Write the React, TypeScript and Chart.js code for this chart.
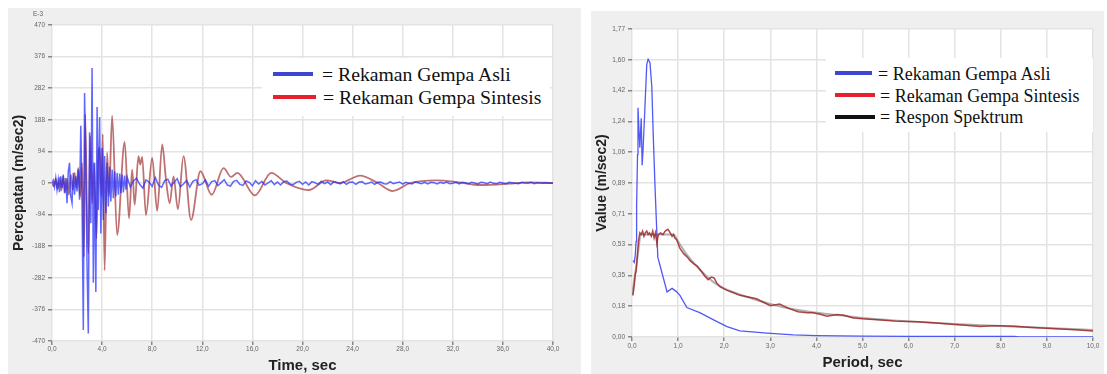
import React, { useEffect, useRef } from "react";
import { Chart, registerables } from "chart.js";

Chart.register(...registerables);

// ---------- Left chart: acceleration time history ----------
const timeTicks = [0, 4, 8, 12, 16, 20, 24, 28, 32, 36, 40];
const accelTicks = [-470, -376, -282, -188, -94, 0, 94, 188, 282, 376, 470];

// original record, sampled every 0.1 s from 0 to 6 s (E-3 m/sec2)
const blueEarlyStart = 0;
const blueEarlyStep = 0.1;
const blueEarly = [
  0, 8, -12, 15, -20, 10, -27, 20, -15, 25,
  -30, 15, -60, 35, 60, -40, -60, 30, -35, 20,
  -25, 40, -50, 170, -60, -437, 268, 60, -250, -448,
  150, -120, 342, -297, 60, -324, 226, -80, 196, -150,
  104, -110, 80, -90, 60, -70, 48, -55, 40, -45,
  35, -40, 30, -35, 28, -30, 25, -28, 22, -20,
  18,
];
// original record, sampled every 0.25 s from 6.25 to 40 s
const blueLateStart = 6.25;
const blueLateStep = 0.25;
const blueLate = [
  -12, 6, 14, -4, -15, 9, 3, -10, 16, -6, -13, 7,
  11, -9, 2, 13, -11, -3, 8, -12, 5, 10, -7, -2,
  9, -10, 4, 7, -8, 1, 10, -6, -9, 5, 8, -4,
  -7, 6, 2, -8, 7, -3, 5, -6, 0, 7, -5, 3,
  -6, 4, 6, -3, -5, 2, 5, -4, 3, -6, 4, 1,
  -4, 5, -2, 3, -5, 4, 1, -3, 4, -4, 2, 3,
  -4, 2, 4, -3, -1, 3, -4, 2, 3, -2, -3, 4,
  -2, 1, 3, -3, 2, -1, -3, 3, 1, -2, 2, -3,
  2, 1, -3, 2, -1, 3, -2, -1, 2, -3, 2, 1,
  -2, 2, 0, -3, 2, 1, -2, 3, -1, -2, 2, 0,
  -2, 2, 1, -1, -2, 2, 0, -1, 2, -2, 1, 0,
  -1, 1, -1, 0,
];

// synthetic record: times (s) and accelerations (E-3 m/sec2)
const redTimes = [
  0, 0.15, 0.3, 0.45, 0.6, 0.75, 0.9, 1.05, 1.2, 1.35,
  1.5, 1.65, 1.8, 1.95, 2.1, 2.25, 2.4, 2.55, 2.65, 2.8,
  2.9, 3.05, 3.2, 3.35, 3.55, 3.7, 3.8, 3.95, 4.05, 4.2,
  4.4, 4.55, 4.8, 5.2, 5.8, 6.15, 6.4, 6.6, 6.9, 7.05,
  7.2, 7.5, 8.0, 8.4, 8.8, 9.1, 9.4, 9.7, 10.05, 10.5,
  11.1, 11.85, 12.75, 13.7, 14.3, 14.8, 16.2, 17.5, 18.7, 20.5,
  21.9, 23.0, 24.6, 26.0, 27.2, 28.6, 30.7, 32.5, 34.2, 36.5,
  38.0, 40.0,
];
const redAccel = [
  0, -10, 12, -18, 15, -22, 20, -28, 12, -35,
  25, -20, 30, -15, 45, -40, 60, -220, 205, -100,
  -210, 140, -60, 60, -165, 80, 105, -40, 145, -260,
  90, -40, 200, -155, 122, -105, 40, -65, 80, 55,
  78, -95, 75, -83, 115, 10, -60, 20, -78, 80,
  -110, 35, -35, 44, 18, 30, -37, 30, 0, -21,
  8, 0, 22, 0, -24, 0, 8, 2, -6, -2,
  2, 0,
];

// ---------- Right chart: response spectra ----------
const periodTicks = [0, 1, 2, 3, 4, 5, 6, 7, 8, 9, 10];
const valueTicks = [0, 0.1774, 0.3548, 0.5322, 0.7096, 0.887, 1.0644, 1.2418, 1.4192, 1.5966, 1.774];
const valueTickLabels = ["0,00", "0,18", "0,35", "0,53", "0,71", "0,89", "1,06", "1,24", "1,42", "1,60", "1,77"];

const origSpecPeriods = [
  0.02, 0.05, 0.07, 0.09, 0.1, 0.12, 0.13, 0.15, 0.17, 0.2,
  0.22, 0.24, 0.28, 0.32, 0.35, 0.39, 0.43, 0.46, 0.5, 0.56,
  0.65, 0.76, 0.87, 0.97, 1.04, 1.19, 1.47, 1.76, 2.06, 2.34,
  2.93, 3.5, 4.0, 5.0, 6.0, 7.0, 8.3, 8.4, 10.0,
];
const origSpecValues = [
  0.44, 0.43, 0.47, 0.55, 0.75, 1.05, 1.32, 1.2, 1.09, 1.26,
  0.99, 1.08, 1.32, 1.57, 1.6, 1.58, 1.44, 1.17, 0.86, 0.46,
  0.37, 0.26, 0.28, 0.26, 0.24, 0.17, 0.14, 0.1, 0.06, 0.035,
  0.022, 0.012, 0.008, 0.005, 0.004, 0.004, 0.003, 0.0, 0.0,
];

const synthSpecPeriods = [
  0.02, 0.05, 0.07, 0.09, 0.11, 0.14, 0.17, 0.2, 0.23, 0.26,
  0.29, 0.32, 0.35, 0.38, 0.42, 0.45, 0.48, 0.51, 0.54, 0.57,
  0.62, 0.67, 0.72, 0.78, 0.83, 0.87, 0.9, 0.93, 0.97, 1.04,
  1.12, 1.2, 1.26, 1.35, 1.41, 1.5, 1.58, 1.65, 1.72, 1.78,
  1.84, 1.91, 2.05, 2.2, 2.34, 2.5, 2.7, 2.85, 3.0, 3.2,
  3.4, 3.6, 3.8, 3.93, 4.1, 4.23, 4.45, 4.6, 4.8, 5.0,
  5.4, 5.8, 6.2, 6.6, 7.0, 7.3, 7.55, 7.8, 8.0, 8.3,
  8.6, 9.0, 9.4, 9.7, 10.0,
];
const synthSpecValues = [
  0.24, 0.3, 0.36, 0.38, 0.45, 0.55, 0.6, 0.59, 0.61, 0.58,
  0.6, 0.61, 0.59, 0.6, 0.58, 0.61, 0.57, 0.6, 0.54, 0.59,
  0.6, 0.59, 0.61, 0.62, 0.6, 0.58, 0.59, 0.57, 0.56, 0.51,
  0.48, 0.46, 0.44, 0.42, 0.41, 0.38, 0.35, 0.33, 0.345, 0.34,
  0.31, 0.29, 0.27, 0.255, 0.24, 0.232, 0.22, 0.2, 0.18, 0.19,
  0.165, 0.145, 0.14, 0.14, 0.13, 0.12, 0.13, 0.125, 0.11, 0.105,
  0.098, 0.09, 0.088, 0.08, 0.072, 0.066, 0.06, 0.065, 0.065, 0.062,
  0.056, 0.05, 0.045, 0.04, 0.035,
];

const targetSpecPeriods = [0, 0.1, 0.2, 0.9, 1.0, 1.2, 1.5, 1.8, 2.0, 2.5, 3.0, 3.5, 4.0, 4.5, 5.0, 6.0, 7.0, 8.0, 9.0, 10.0];
const targetSpecValues = [0.24, 0.42, 0.59, 0.59, 0.55, 0.47, 0.38, 0.31, 0.28, 0.23, 0.19, 0.16, 0.14, 0.125, 0.11, 0.09, 0.075, 0.063, 0.052, 0.04];

// ---------- helpers ----------
const SANS = "'Liberation Sans', Arial, sans-serif";
const SERIF = "'Liberation Serif', 'Times New Roman', serif";

const pairs = (xs: number[], ys: number[]) => xs.map((x, i) => ({ x, y: ys[i] }));
const stepped = (start: number, step: number, ys: number[]) =>
  ys.map((y, i) => ({ x: +(start + i * step).toFixed(3), y }));
const comma1 = (v: any) => Number(v).toFixed(1).replace(".", ",");

const areaBg = {
  id: "areaBg",
  beforeDraw(chart: any) {
    const { ctx, chartArea } = chart;
    ctx.save();
    ctx.fillStyle = "#ffffff";
    ctx.fillRect(chartArea.left, chartArea.top, chartArea.right - chartArea.left, chartArea.bottom - chartArea.top);
    ctx.restore();
  },
};

const e3Label = {
  id: "e3Label",
  afterDraw(chart: any) {
    const ctx = chart.ctx;
    ctx.save();
    ctx.font = `6.5px ${SANS}`;
    ctx.fillStyle = "#666";
    ctx.textBaseline = "middle";
    ctx.textAlign = "left";
    ctx.fillText("E-3", 25, 6);
    ctx.restore();
  },
};

const zeroPad = (s: any) => {
  s.paddingLeft = 0;
  s.paddingRight = 0;
  s.paddingTop = 0;
  s.paddingBottom = 0;
};

const gridOpts = { color: "#e3e3e3", lineWidth: 1.5, tickLength: 4, tickColor: "#888", drawTicks: true };
const tickFont = { size: 6.5, family: SANS };

function leftConfig(): any {
  return {
    type: "line",
    data: {
      datasets: [
        {
          label: "Rekaman Gempa Asli",
          data: [...stepped(blueEarlyStart, blueEarlyStep, blueEarly), ...stepped(blueLateStart, blueLateStep, blueLate)],
          borderColor: "rgba(30,40,255,0.7)",
          borderWidth: 1.5,
          pointRadius: 0,
          tension: 0,
          order: 0,
        },
        {
          label: "Rekaman Gempa Sintesis",
          data: pairs(redTimes, redAccel),
          borderColor: "rgba(160,45,45,0.68)",
          borderWidth: 1.8,
          pointRadius: 0,
          cubicInterpolationMode: "monotone",
          order: 1,
        },
      ],
    },
    options: {
      animation: false,
      responsive: false,
      events: [],
      layout: { padding: { left: 0, right: 28, top: 17, bottom: 0 } },
      plugins: { legend: { display: false }, tooltip: { enabled: false } },
      scales: {
        x: {
          type: "linear",
          min: 0,
          max: 40,
          afterBuildTicks: (s: any) => {
            s.ticks = timeTicks.map((v) => ({ value: v }));
          },
          afterFit: (s: any) => {
            s.height = 33;
            zeroPad(s);
          },
          ticks: { callback: comma1, font: tickFont, color: "#666", padding: 0, autoSkip: false, maxRotation: 0 },
          grid: gridOpts,
          border: { display: false },
          title: {
            display: true,
            text: "Time, sec",
            color: "#222",
            font: { size: 15, weight: "bold", family: SANS },
            padding: { top: 0, bottom: -1 },
          },
        },
        y: {
          type: "linear",
          min: -470,
          max: 470,
          afterBuildTicks: (s: any) => {
            s.ticks = accelTicks.map((v) => ({ value: v }));
          },
          afterFit: (s: any) => {
            s.width = 44;
            zeroPad(s);
          },
          ticks: { callback: (v: any) => String(v), font: tickFont, color: "#666", padding: 3, autoSkip: false },
          grid: gridOpts,
          border: { display: false },
          title: {
            display: true,
            text: "Percepatan (m/sec2)",
            color: "#222",
            font: { size: 14, weight: "bold", family: SANS },
            padding: { top: 3, bottom: 0 },
          },
        },
      },
    },
    plugins: [areaBg, e3Label],
  };
}

function rightConfig(): any {
  return {
    type: "line",
    data: {
      datasets: [
        {
          label: "Rekaman Gempa Asli",
          data: pairs(origSpecPeriods, origSpecValues),
          borderColor: "rgba(50,60,245,0.85)",
          borderWidth: 1.3,
          pointRadius: 0,
          tension: 0,
          order: 1,
        },
        {
          label: "Rekaman Gempa Sintesis",
          data: pairs(synthSpecPeriods, synthSpecValues),
          borderColor: "rgba(160,40,40,0.85)",
          borderWidth: 1.5,
          pointRadius: 0,
          tension: 0,
          order: 0,
        },
        {
          label: "Respon Spektrum",
          data: pairs(targetSpecPeriods, targetSpecValues),
          borderColor: "rgba(165,165,165,0.9)",
          borderWidth: 2,
          pointRadius: 0,
          cubicInterpolationMode: "monotone",
          order: 2,
        },
      ],
    },
    options: {
      animation: false,
      responsive: false,
      events: [],
      layout: { padding: { left: 0, right: 11, top: 18, bottom: 0 } },
      plugins: { legend: { display: false }, tooltip: { enabled: false } },
      scales: {
        x: {
          type: "linear",
          min: 0,
          max: 10,
          afterBuildTicks: (s: any) => {
            s.ticks = periodTicks.map((v) => ({ value: v }));
          },
          afterFit: (s: any) => {
            s.height = 37;
            zeroPad(s);
          },
          ticks: { callback: comma1, font: tickFont, color: "#666", padding: 1, autoSkip: false, maxRotation: 0 },
          grid: gridOpts,
          border: { display: false },
          title: {
            display: true,
            text: "Period, sec",
            color: "#222",
            font: { size: 15, weight: "bold", family: SANS },
            padding: { top: 0, bottom: 2 },
          },
        },
        y: {
          type: "linear",
          min: 0,
          max: 1.774,
          afterBuildTicks: (s: any) => {
            s.ticks = valueTicks.map((v) => ({ value: v }));
          },
          afterFit: (s: any) => {
            s.width = 41;
            zeroPad(s);
          },
          ticks: {
            callback: (_v: any, i: number) => valueTickLabels[i],
            font: tickFont,
            color: "#666",
            padding: 3,
            autoSkip: false,
          },
          grid: gridOpts,
          border: { display: false },
          title: {
            display: true,
            text: "Value (m/sec2)",
            color: "#222",
            font: { size: 14, weight: "bold", family: SANS },
            padding: { top: 2.6, bottom: 0 },
          },
        },
      },
    },
    plugins: [areaBg],
  };
}

type LegendItem = { color: string; text: string; lineLeft: number; lineRight: number; lineY: number; textLeft: number; textTop: number };

const leftLegendItems: LegendItem[] = [
  { color: "#3c46d2", text: "= Rekaman Gempa Asli", lineLeft: 273, lineRight: 313, lineY: 74, textLeft: 322, textTop: 64.5 },
  { color: "#e8202a", text: "= Rekaman Gempa Sintesis", lineLeft: 273, lineRight: 316, lineY: 97, textLeft: 323, textTop: 87.5 },
];
const rightLegendItems: LegendItem[] = [
  { color: "#3c46d2", text: "= Rekaman Gempa Asli", lineLeft: 835, lineRight: 872, lineY: 73, textLeft: 878, textTop: 65 },
  { color: "#e8202a", text: "= Rekaman Gempa Sintesis", lineLeft: 835, lineRight: 875, lineY: 95, textLeft: 880, textTop: 87 },
  { color: "#111111", text: "= Respon Spektrum", lineLeft: 835, lineRight: 875, lineY: 117, textLeft: 880, textTop: 108 },
];

function Legend({ box, items, fontSize }: { box: { left: number; top: number; width: number; height: number }; items: LegendItem[]; fontSize: number }) {
  return (
    <>
      <div style={{ position: "absolute", left: box.left, top: box.top, width: box.width, height: box.height, background: "#fff" }} />
      {items.map((it) => (
        <React.Fragment key={it.text}>
          <div
            style={{
              position: "absolute",
              left: it.lineLeft,
              top: it.lineY - 2,
              width: it.lineRight - it.lineLeft,
              height: 4,
              background: it.color,
            }}
          />
          <div
            style={{
              position: "absolute",
              left: it.textLeft,
              top: it.textTop,
              fontFamily: SERIF,
              fontSize,
              lineHeight: 1,
              color: "#111",
              whiteSpace: "nowrap",
            }}
          >
            {it.text}
          </div>
        </React.Fragment>
      ))}
    </>
  );
}

export default function App() {
  const leftRef = useRef<HTMLCanvasElement>(null);
  const rightRef = useRef<HTMLCanvasElement>(null);

  useEffect(() => {
    const c1 = new Chart(leftRef.current as HTMLCanvasElement, leftConfig());
    const c2 = new Chart(rightRef.current as HTMLCanvasElement, rightConfig());
    return () => {
      c1.destroy();
      c2.destroy();
    };
  }, []);

  return (
    <div style={{ position: "absolute", left: 0, top: 0, width: 1107, height: 374, overflow: "hidden", background: "#fff" }}>
      <div style={{ position: "absolute", left: 8, top: 8, width: 573, height: 366, background: "#efefef" }}>
        <canvas ref={leftRef} width={573} height={366} style={{ display: "block" }} />
      </div>
      <div style={{ position: "absolute", left: 591, top: 11, width: 513, height: 363, background: "#efefef" }}>
        <canvas ref={rightRef} width={513} height={363} style={{ display: "block" }} />
      </div>
      <Legend box={{ left: 262, top: 58, width: 288, height: 58 }} items={leftLegendItems} fontSize={19.7} />
      <Legend box={{ left: 826, top: 58, width: 267, height: 74 }} items={rightLegendItems} fontSize={18} />
    </div>
  );
}
